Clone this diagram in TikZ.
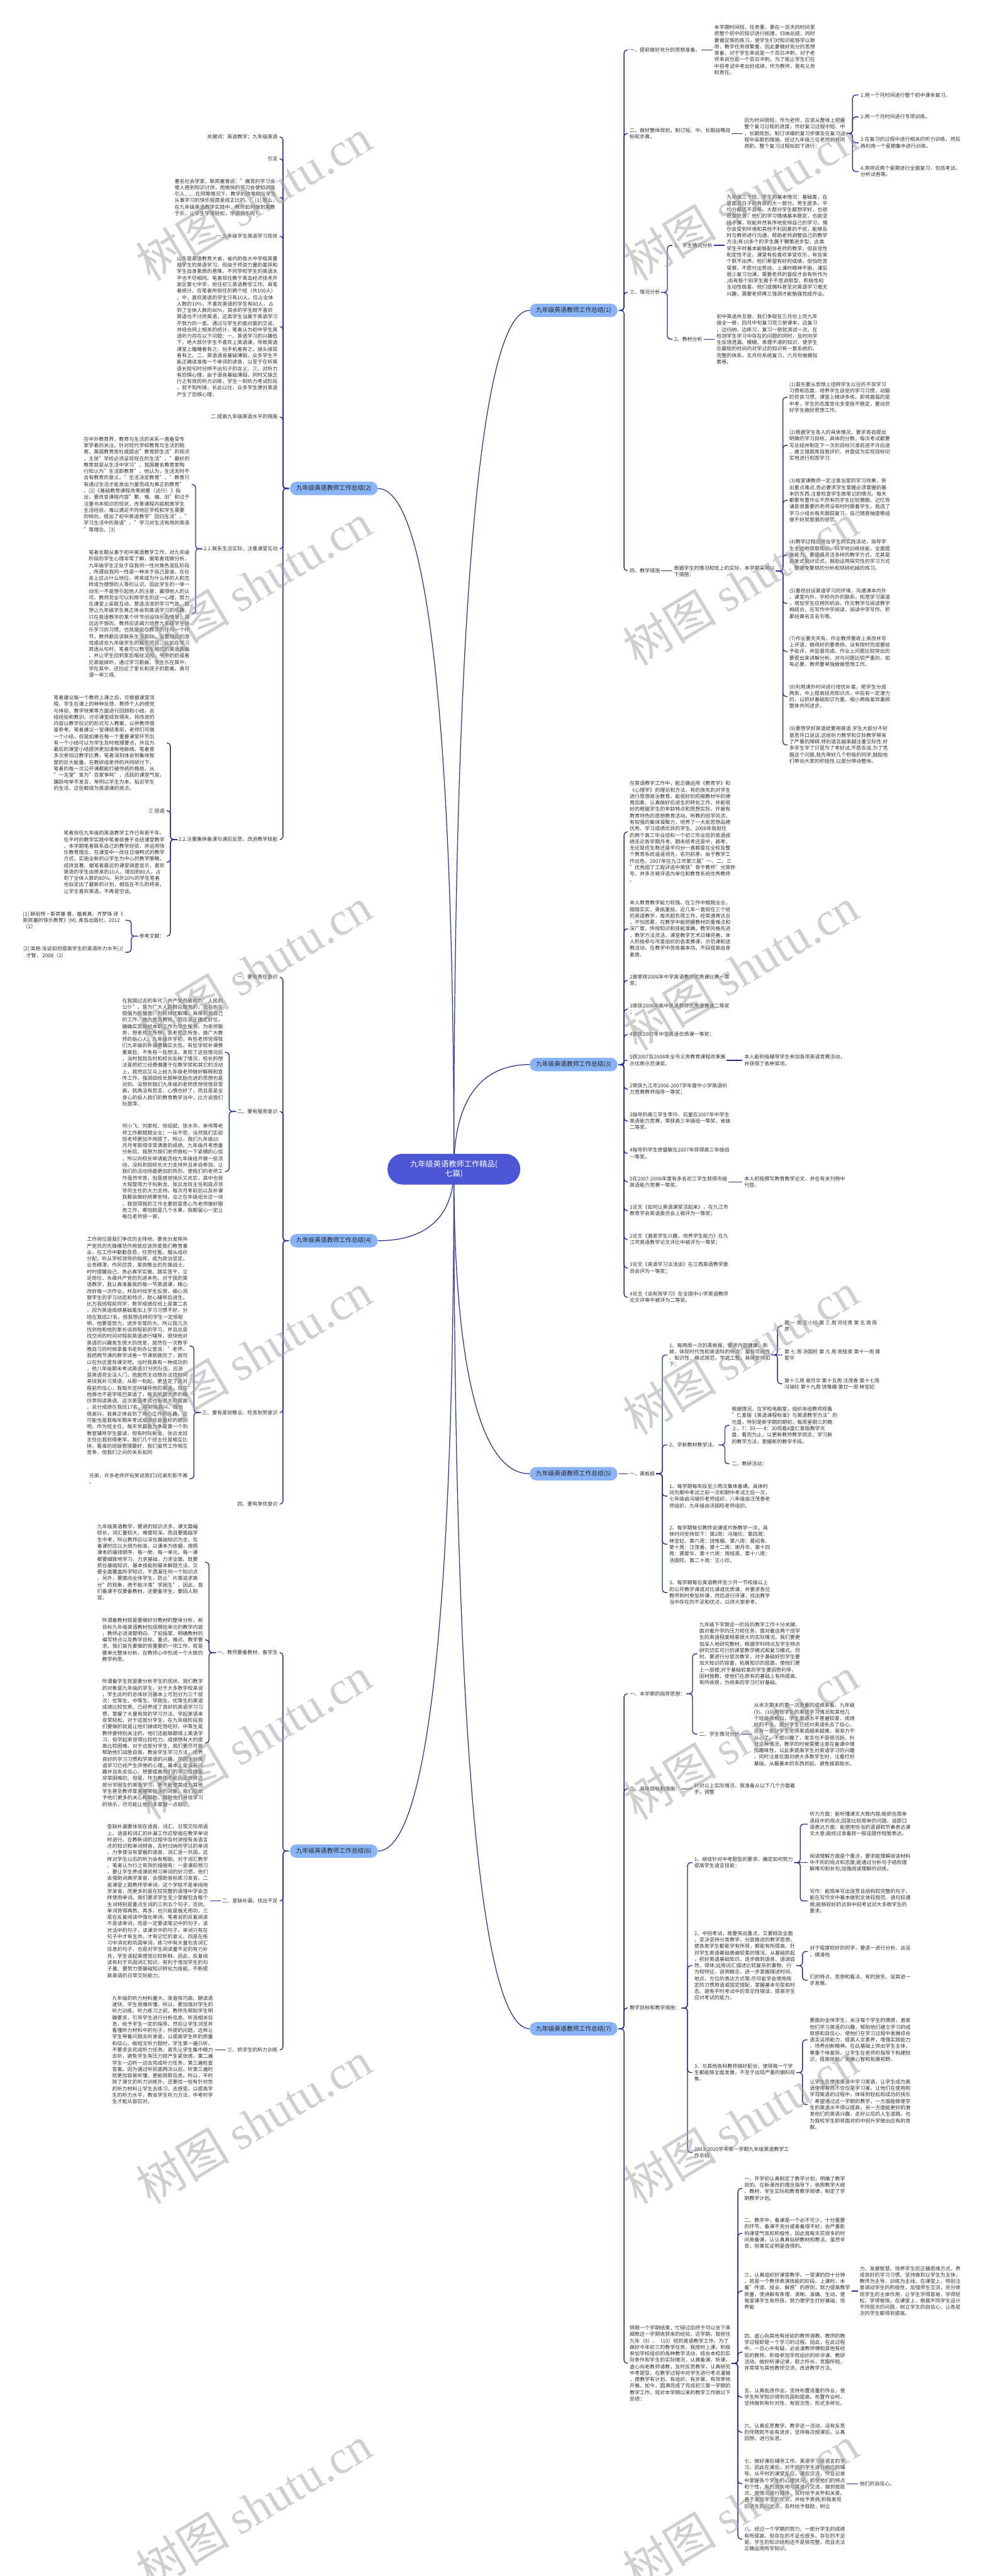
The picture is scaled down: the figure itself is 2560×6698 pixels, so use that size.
\documentclass[tikz,border=0pt]{standalone}
\usepackage{fontspec}
\setmainfont{Noto Sans CJK SC}
\newfontfamily\wmfont{Liberation Serif}
\usetikzlibrary{calc}
\definecolor{lc}{RGB}{38,48,145}
\definecolor{pc}{RGB}{138,180,248}
\definecolor{rc}{RGB}{77,87,214}
\definecolor{tc}{RGB}{48,48,48}
\definecolor{wc}{RGB}{160,160,160}
\newcommand\tf{\fontsize{13.1pt}{16.8pt}\selectfont}
\newcommand\pf{\fontsize{16pt}{19pt}\selectfont}
\newcommand\rf{\fontsize{20pt}{26pt}\selectfont}
\newcommand\wf{\fontsize{122pt}{124pt}\selectfont}
\tikzset{
  cn/.style={draw=lc, line width=2.2pt, rounded corners=8pt},
  cb/.style={draw=lc, line width=2pt},
  rt/.style={anchor=west, inner sep=0pt, align=left, font=\tf, text=tc},
  lt/.style={anchor=east, inner sep=0pt, align=left, font=\tf, text=tc},
  pill/.style={fill=pc, rounded corners=17pt, minimum width=228pt, minimum height=35pt, inner sep=0pt, font=\pf, text=black!85},
  rootn/.style={fill=rc, rounded corners=39pt, minimum width=345pt, minimum height=80pt, inner sep=0pt, align=center, font=\rf, text=white},
  wm/.style={rotate=31, text=wc, text opacity=0.5, font=\wf, inner sep=0pt}
}
\newcommand\RC[3][18]{\draw[cn] ([xshift=3pt]#2.east) -- ++(#1pt,0) |- ([xshift=-5pt]#3.west);}
\newcommand\RS[2]{\draw[cn] ([xshift=3pt]#1.east) -- ($(#1.east -| #2.west)+(-5pt,0)$);}
\newcommand\LC[3][18]{\draw[cn] ([xshift=-3pt]#2.west) -- ++(-#1pt,0) |- ([xshift=5pt]#3.east);}
\newcommand\LS[2]{\draw[cn] ([xshift=-3pt]#1.west) -- ($(#1.west -| #2.east)+(5pt,0)$);}
\begin{document}
\begin{tikzpicture}[x=1pt,y=-1pt]
\fill[white] (0,0) rectangle (2560,6698);
\useasboundingbox (0,0) rectangle (2560,6698);

% ---------------- root and branches ----------------
\coordinate (rootc) at (1180,3040);
\coordinate (q1) at (1377,807);
\coordinate (q2) at (982,1270);
\coordinate (q3) at (1377,2768);
\coordinate (q4) at (982,3226);
\coordinate (q5) at (1377,3832);
\coordinate (q6) at (982,4813);
\coordinate (q7) at (1377,5275);
\draw[cb] (rootc) .. controls (1180,1700) and (1239,807) .. (q1);
\draw[cb] (rootc) .. controls (1180,1977) and (1121,1270) .. (q2);
\draw[cb] (rootc) .. controls (1180,2876) and (1239,2768) .. (q3);
\draw[cb] (rootc) .. controls (1180,3152) and (1121,3226) .. (q4);
\draw[cb] (rootc) .. controls (1180,3515) and (1239,3832) .. (q5);
\draw[cb] (rootc) .. controls (1180,4103) and (1121,4813) .. (q6);
\draw[cb] (rootc) .. controls (1180,4380) and (1239,5275) .. (q7);
\node[rootn] (root) at (rootc) {九年级英语教师工作精品(\\七篇)};
\node[pill,anchor=west] (p1) at (q1) {九年级英语教师工作总结(1)};
\node[pill,anchor=east] (p2) at (q2) {九年级英语教师工作总结(2)};
\node[pill,anchor=west] (p3) at (q3) {九年级英语教师工作总结(3)};
\node[pill,anchor=east] (p4) at (q4) {九年级英语教师工作总结(4)};
\node[pill,anchor=west] (p5) at (q5) {九年级英语教师工作总结(5)};
\node[pill,anchor=east] (p6) at (q6) {九年级英语教师工作总结(6)};
\node[pill,anchor=west] (p7) at (q7) {九年级英语教师工作总结(7)};

% ================= Branch 1 =================
\node[rt] (a1) at (1637,130) {一、提前做好充分的思想准备。};
\node[rt] (a1t) at (1857,130) {本学期时间短，任务重，要在一百天的时间里\\
把整个初中的知识进行梳理，归纳总结，同时\\
要做足够的练习，使学生们对知识能够学以致\\
用，教学任务很繁重，因此要做好充分的思想\\
准备，对于学生来说是一个百日冲刺，对于老\\
师来说也是一个百日冲刺。为了能让学生们在\\
中招考试中考出好成绩，作为教师，我有义务\\
和责任。};
\node[rt] (a2) at (1637,347) {二、做好整体规划，制订短、中、长期战略目\\
标和步骤。};
\node[rt] (a2t) at (1935,347) {因为时间很短，作为老师，应该从整体上把握\\
整个复习过程的进度，作好复习过程中短、中\\
、长期规划，制订详细的复习步骤及在复习过\\
程中采取的措施。经过九年级三位老师的共同\\
商酌，整个复习过程拟如下进行：};
\node[rt] (a2a) at (2237,247) {1.用一个月时间进行整个初中课本复习。};
\node[rt] (a2b) at (2237,304) {2.用一个月时间进行专项训练。};
\node[rt] (a2c) at (2237,371) {3.在复习的过程中进行相关的听力训练，然后\\
再利用一个星期集中进行训练。};
\node[rt] (a2d) at (2237,446) {4.用将近两个星期进行全面复习，包括考试，\\
分析试卷等。};
\node[rt] (a3) at (1637,760) {三、情况分析};
\node[rt] (a3a) at (1753,638) {1、学生情况分析};
\node[rt] (a3at) at (1889,638) {九年级三个班，学生的基本情况：基础差，在\\
里面混日子的有很的大一部分。男生居多。平\\
均分都还不及格。大部分学生都想学好，也很\\
愿意吃苦，他们的学习情绪基本稳定，也能坚\\
持不懈，较能井然有序地安排自己的学习，偶\\
尔会受到环境和其他不利因素的干扰，能够及\\
时与教师进行沟通，帮助老师调整自己的教学\\
方法;有10多个的学生属于鞭策进步型，此类\\
学生平时基本能够配合老师的教学，但自觉性\\
和定性不足，课堂有些喜欢享受欢乐，有些来\\
个默不出声。他们希望有好的成绩，但怕吃苦\\
受罪，不愿付出劳动，上课时精神不振，课后\\
很少复习功课，需要老师的督促才会有所作为\\
;尚有极个别学生属于不思进取型，积极性和\\
主动性极差，他们或偏科甚至对英语学习毫无\\
兴趣，需要老师再三强调才能勉强完成作业。};
\node[rt] (a3b) at (1753,882) {2、教材分析};
\node[rt] (a3bt) at (1863,882) {初中英语共五册，我们争取在三月份上完九年\\
级全一册，四月中旬复习完三册课本，边复习\\
、边归纳、边练习，复习一册就测试一次。在\\
检测学生学习中存在的问题的同时，及时向学\\
生反馈遗漏、模糊、条理不清的知识，使学生\\
在最短的时间内对学过的知识有一套系统的、\\
完整的体系。五月份系统复习，六月份做模拟\\
套卷。};
\node[rt] (a4) at (1637,1484) {四、教学措施};
\node[rt] (a4t) at (1752,1485) {根据学生的情况和班上的实际，本学期采用以\\
下措施：};
\node[rt] (a4a) at (2052,1033) {(1)首先要从思想上扭转学生以往的不良学习\\
习惯和态度，培养学生自觉的学习习惯，动脑\\
的优良习惯，课堂上精讲多练。即将面临的是\\
中考，学生的态度变化多变极不稳定，要动员\\
好学生做好思想工作。};
\node[rt] (a4b) at (2052,1158) {(2)根据学生各人的具体情况，要求各自提出\\
明确的学习目标，具体的分数，每次考试都要\\
写总结并制定下一次的目标只准前进不许后退\\
，建立错题库自我评价。并督促为实现目标切\\
实地进行刻苦学习.};
\node[rt] (a4c) at (2052,1301) {(3)每堂课教师一定注意当堂的学习效果，突\\
出重点难点.务必要求学生掌握必须掌握的基\\
本的东西.注意检查学生做笔记的情况。每天\\
都要布置作业不然有的学生比较懒散。记忆背\\
诵是很重要的老师没有时时跟着学生，我选了\\
学习小组长每天跟踪复习，自己随意抽查哪组\\
做不好就狠狠的惩罚。};
\node[rt] (a4d) at (2052,1443) {(4)教学过程应突出学生的实践活动，指导学\\
生主动地获取知识，科学地训练技能，全面提\\
高能力。要提倡灵活多样的教学方式，尤其是\\
启发式和讨论式，鼓励运用探究性的学习方式\\
。要避免繁琐的分析和琐碎机械的练习。};
\node[rt] (a4e) at (2052,1569) {(5)重视创设英语学习的环境，沟通课本内外\\
、课堂内外、学校内外的联系，拓宽学习渠道\\
，增加学生应用的机会。作文教学与阅读教学\\
相结合，在写作中学阅读，阅读中学写作。积\\
累经典名言名句等。};
\node[rt] (a4f) at (2052,1694) {(7)作业要天天有，作业教师要收上来改并写\\
上评语，做得好的要表扬，没有按时完成要给\\
予批评，并监督完成。作业上问题比较突出的\\
要提出来讲解分析。对与问题比较严重的，如\\
有必要，教师要单独做做思想工作。};
\node[rt] (a4g) at (2052,1811) {(8)利用课外时间进行培优补差。把学生分成\\
两类，中上提高括充知识点，中后有一定潜力\\
的，以抓好基础知识为重。缩小两极差异兼顾\\
整体共同进步。};
\node[rt] (a4h) at (2052,1937) {(9)要想学好英语就要用英语.学生大部分不好\\
意思开口说话.这给听力教学和交际教学带来\\
了严重的障碍.特别语言越来越注重交际性.好\\
多学生学了只是为了考好试,不愿去说.为了克\\
服这个问题,我先带好几个积极的同学,鼓励他\\
们带动大家的积极性.以部分带动整体。};
\foreach \c in {a1,a2,a3,a4} {\RC[14]{p1}{\c}}
\RS{a1}{a1t}
\RS{a2}{a2t}
\foreach \c in {a2a,a2b,a2c,a2d} {\RC[16]{a2t}{\c}}
\RC[16]{a3}{a3a}
\RC[16]{a3}{a3b}
\RS{a3a}{a3at}
\RS{a3b}{a3bt}
\RS{a4}{a4t}
\foreach \c in {a4a,a4b,a4c,a4d,a4e,a4f,a4g,a4h} {\RC[18]{a4t}{\c}}

% ================= Branch 3 =================
\node[rt] (c1) at (1637,2163) {在英语教学工作中，能正确运用《教育学》和\\
《心理学》的理论和方法。有的放矢的对学生\\
进行思想政治教育。能很好的挖掘教材中的德\\
育因素，认真做好后进生的转化工作，并能很\\
好的根据学生的年龄特点和思想实际，开展有\\
教育特色的思想教育活动。所教的班学风浓，\\
有较强的集体凝聚力，培养了一大批思想品德\\
优秀、学习成绩优异的学生。2008年我担任\\
的两个高三毕业班和一个初三毕业班的英语成\\
绩无论各学期月考、期末统考还是中，高考，\\
无论是优生数还是平均分一直都是在全校及整\\
个教育系统遥遥领先，名列前茅。由于教学工\\
作出色，2007年在九江市第三届"一、二、三\\
"优秀园丁工程评选中荣获"骨干教师"光荣称\\
号。并多次被评选为单位和教育系统优秀教师\\
。};
\node[rt] (c2) at (1637,2415) {本人教育教学能力较强。在工作中兢兢业业，\\
踏踏实实，勇挑重担。近几年一直担任三个班\\
的英语教学，每天超负荷工作，经常通宵达旦\\
，不怕苦累。在教学中能把握教材的重难点和\\
深广度，传授知识和技能准确，教学风格先进\\
，教学方法灵活，课堂教学艺术日臻完善。本\\
人积极参与市里组织的各类赛课，示范课和送\\
教活动，在教学中苦练基本功。不段提高自身\\
素质。};
\node[rt] (c3) at (1637,2549) {2曾荣获2006年中学英语教师优质课比赛一等\\
奖；};
\node[rt] (c4) at (1637,2624) {3荣获2006年高中英语教师优质课赛课二等奖\\
；};
\node[rt] (c5) at (1637,2690) {4荣获2007年中学英语优质课一等奖；};
\node[rt] (c6) at (1637,2757) {5获2007及2008年全市义务教育课程改革展\\
示优质示范课奖。};
\node[rt] (c6t) at (1935,2757) {本人能积极辅导学生参加各项英语竞赛活动，\\
并获得了各种奖项。};
\node[rt] (c7) at (1637,2832) {2荣获九江市2006-2007学年度中小学英语听\\
力竞赛教师指导一等奖；};
\node[rt] (c8) at (1637,2915) {3指导的高三学生李玲、石童在2007年中学生\\
英语能力竞赛，荣获高三年级组一等奖，省级\\
二等奖，};
\node[rt] (c9) at (1637,2999) {4指导的学生廖盛敏在2007年获得高三年级组\\
一等奖。};
\node[rt] (c10) at (1637,3073) {5在2007-2008年度有多名初三学生获得市级\\
英语能力竞赛一等奖。};
\node[rt] (c10t) at (1935,3073) {本人积极撰写教育教学论文，并在有关刊物中\\
刊登。};
\node[rt] (c11) at (1637,3148) {1论文《如何让英语课堂活起来》，在九江市\\
教育学会英语委员会上被评为一等奖；};
\node[rt] (c12) at (1637,3223) {2论文《激发学生兴趣，培养学生能力》在九\\
江市英语教学论文评比中被评为一等奖；};
\node[rt] (c13) at (1637,3297) {3论文《英语学习法浅谈》在江西英语教学委\\
员会评为一等奖；};
\node[rt] (c14) at (1637,3373) {4论文《谈有效学习》在全国中小学英语教师\\
论文评审中被评为二等奖。};
\foreach \c in {c1,c2,c3,c4,c5,c7,c8,c9,c10,c11,c12,c13,c14} {\RC[14]{p3}{\c}}
\draw[cn,rounded corners=4pt] ([xshift=3pt]p3.east) -- ++(14pt,0) |- ([xshift=-5pt]c6.west);
\RS{c6}{c6t}
\RS{c10}{c10t}

% ================= Branch 5 =================
\node[rt] (e1) at (1637,3832) {一、黑板报};
\node[rt] (k1) at (1740,3523) {1、每两周一次的黑板报，要求内容健康、新\\
颖，体现时代性和英语科的特点，富有可阅性\\
、知识性，格式规范，字迹工整。具体安排如\\
下：};
\node[rt] (k1a) at (2039,3448) {第 一 周 王小珍 第 三 周 邓任贵 第 五 周 陈\\
彦};
\node[rt] (k1b) at (2039,3523) {第 七 周 汤国旺 第 九 周 周桂英 第十一周 龚\\
爱华};
\node[rt] (k1c) at (2039,3598) {第十三周 谢月华 第十五周 汪茂香 第十七周\\
冯瑞珍 第十九周 饶惟媚 第廿一周 林宝妃};
\node[rt] (k2) at (1740,3757) {2、学新教材教学法。};
\node[rt] (k2a) at (1902,3706) {根据情况，在学校电脑室，组织本组教师观看\\
"仁爱版《英语课程标准》与英语教学方法"的\\
光盘，特别是新学期的期初，每周星期三的晚\\
上，7：30——8：30观看8盘仁爱版教学光\\
盘，看完为止，以更新教师教学观念，学习新\\
的教学方法，掌握新的教学手段。};
\node[rt] (k2b) at (1902,3806) {二、教研活动：};
\node[rt] (k3) at (1740,3890) {1、每学期每年段至少两次集体备课，具体时\\
间为期中考试之前一次和期中考试之后一次，\\
七年级由冯瑞珍老师组织，八年级由汪茂香老\\
师组织，九年级由汤国旺老师组织。};
\node[rt] (k4) at (1740,4015) {2、每学期每位教师说课或片断教学一次，具\\
体时间安排如下：第2周：冯瑞珍、第四周：\\
林宝妃、第六周：饶惟媚、第八周：葛绍青、\\
第十周：汪茂香、第十二周：谢月华、第十四\\
周：龚爱华、第十六周：周桂英、第十八周：\\
汤国旺、第二十周：王小珍。};
\node[rt] (k5) at (1740,4141) {3、每学期每位英语教师至少开一节校级以上\\
的公开教学课或对比课或优质课，并要求各位\\
教师到时参加听课，然后进行评课，找出教学\\
当中存在的不足和优点，以供大家参考。};
\RS{p5}{e1}
\foreach \c in {k1,k2,k3,k4,k5} {\RC[16]{e1}{\c}}
\RC[16]{k1}{k1a}
\RS{k1}{k1b}
\RC[16]{k1}{k1c}
\RC[16]{k2}{k2a}
\RC[16]{k2}{k2b}

% ================= Branch 7 =================
\node[rt] (f1) at (1637,4404) {一、本学期的指导思想：};
\node[rt] (f1a) at (1818,4300) {九年级下学期这一阶段的教学工作十分关键。\\
面对着升学的压力和任务，面对着这两个班学\\
生的英语程度相差很大的实际情况。我们要更\\
加深入地研究教材，根据学科特点及学生特点\\
研究切实可行的课堂教学模式和复习模式。同\\
时，要进行分层次教学。对于基础好的学生要\\
加大知识的容量，拓展知识的层面，使他们更\\
上一层楼;对于基础较差的学生要因势利导，\\
因材施教，使他们在原有的基础上有所提高、\\
有所收获，为将来的学习打好基础。};
\node[rt] (f1b) at (1818,4509) {二、学生情况分析};
\node[rt] (f1bt) at (1960,4510) {从本次期末的第一次质量的成绩来看，九年级\\
(9)、(10)两班学生的英语学习情况和其他几\\
个班级很相似，学生英语水平普遍较差，成绩\\
好的不多，部分学生已经对英语失去了信心，\\
还有一部分学生觉得英语越来越难，渐渐力不\\
从心了，不感兴趣了，发言也不是很活跃。针\\
对这种情况，教学的时候需要注意在备课中增\\
加趣味性，以此来提高学生对英语学习的兴趣\\
，同时注意在面对绝大多数学生时，注重打好\\
基础，从最基本的东西抓起，避免拔苗助长。};
\node[rt] (f2) at (1637,4651) {三、具体目标和措施：};
\node[rt] (f2t) at (1805,4652) {针对以上实际情况，我准备从以下几个方面着\\
手，调整};
\node[rt] (f3) at (1637,5221) {教学目标和教学措施：};
\node[rt] (g1) at (1805,4843) {1、继续针对中考题型的要求，确定如何努力\\
提高学生语言技能：};
\node[rt] (g1a) at (2105,4743) {听力方面：能听懂课文大致内容;能抓住简单\\
语段中的观点;回答比较简单的问题。说即口\\
语表达方面：能使用恰当的语调和节奏表达课\\
文大意;能经过准备就一般话题作短暂表达。};
\node[rt] (g1b) at (2105,4843) {阅读理解方面是个重点，要求能理解阅读材料\\
中不同的观点和态度;能通过分析句子结构理\\
解难句和长句;加强阅读理解的训练。};
\node[rt] (g1c) at (2105,4943) {写作：能简单写出连贯且结构较完整的句子，\\
能在写作文中基本做到文体较规范、语句较通\\
顺;能够较好的达到中招考试对大多数学生的\\
要求。};
\node[rt] (g2) at (1805,5111) {2、中招考试，既要突出重点，又要顾及全面\\
，坚决坚持分类教学，分层推进的教学思想，\\
使各类学生都能学有所获，都能有所提高。针\\
对学生英语基础普遍较差的情况，从基础抓起\\
，抓好英语基础知识。逐步做到语音、语调自\\
然、得体;运用词汇描述比较复杂的事物、行\\
为和特征，说明概念，进一步掌握描述时间、\\
地点、方位的表达方式等;尽可能学会使用规\\
定的习惯用语或固定搭配，掌握基本句型和时\\
态。避免平时考试中的常见性错误，提高学生\\
应对考试的能力。};
\node[rt] (g2a) at (2105,5074) {对于程度较好的同学，要逐一进行分析、谈话\\
，摸清他};
\node[rt] (g2b) at (2105,5149) {们的特点、思想和看法，有的放矢，促其进一\\
步发展。};
\node[rt] (g3) at (1805,5389) {3、与其他各科教师搞好配合。使得每一个学\\
生都能够全面发展，不至于出现严重的偏科现\\
象。};
\node[rt] (g3a) at (2105,5304) {要面向全体学生，关注每个学生的情感，激发\\
他们学习英语的兴趣，帮助他们建立学习的成\\
就感和自信心，使他们在学习过程中发展综合\\
语言运用能力，提高人文素养，增强实践能力\\
，培养创新精神。在此基础上突出学生主体，\\
尊重个体差异，让学生在老师的指导下构建知\\
识，提高技能，发展心智和拓展视野。};
\node[rt] (g3b) at (2105,5472) {让学生在使用英语中学习英语，让学生成为英\\
语使用者而不仅仅是学习者。让他们在使用和\\
学习英语的过程中，体味到轻松和成功的快乐\\
。希望通过这一学期的教学，一方面能够使学\\
生的英语水平得以提高，另一方面能更好的激\\
发他们的英语兴趣，走好以后的人生道路。也\\
为我校学生即将面对的中招升学做出应有的贡\\
献。};
\node[rt] (g4) at (1805,5597) {2019-2020学年第一学期九年级英语教学工\\
作总结};
\node[rt] (f4) at (1637,6145) {转眼一个学期结束，忙碌过后终于可以坐下来\\
细数这一学期收获来的经验。这学期，我担任\\
九年（9）、（10）班的英语教学工作。为了\\
做好今年初三的教学任务，我按时上课，积极\\
参加学校组织的各种教学活动，结合本校的实\\
际条件和学生的实际情况，认真备课、听课，\\
虚心向老教师请教，及时反思教学，认真研究\\
中考题型，在教学过程中对学生进行考点灌输\\
，使教学有计划、有组织、有步骤、有效率地\\
开展。如今，圆满完成了完成初三第一学期的\\
教学工作，现对本学期以来的教学工作做以下\\
总结：};
\node[rt] (h1) at (1935,5690) {一、开学初认真制定了教学计划，明确了教学\\
目的。在新课改的理念指导下，依照教学大纲\\
、教材、学生实际和教育教学规律，制定了学\\
期教学计划。};
\node[rt] (h2) at (1935,5807) {二、教学中，备课是一个必不可少，十分重要\\
的环节。备课不充分或者备得不好，会严重影\\
响课堂气氛和积极性，因此我每天花很多的时\\
间来备课，认认真真钻研教材和教法。虽然辛\\
苦，但事实证明是值得的。};
\node[rt] (h3) at (1935,5957) {三、认真组织好课堂教学。一堂课的四十分钟\\
，就是一个教师表演技能的阶段。上课时，本\\
着"传道、授业、解惑"的原则，努力提高教学\\
质量，使讲解有条理、清晰、准确、生动。使\\
每堂课学生有所获，努力使学生打好基础，培\\
养能};
\node[rt] (h3t) at (2235,5957) {力，发展智慧，培养学生的正确思维方式，养\\
成良好的学习习惯。坚持做到以学生为主体，\\
教师为主导，训练为主线。在课堂上，特别注\\
意调动学生的积极性，加强师生交流，充分体\\
现学生的主体作用，让学生学得容易，学得轻\\
松，学得愉快。在课堂上，根据不同学生设计\\
不同层次的问题，树立学生的自信心，让各层\\
次的学生都得到提高。};
\node[rt] (h4) at (1935,6116) {四、虚心向其他有经验的教师请教。教师的教\\
学过程即是一个学习的过程。因此，在此过程\\
中，一旦心中有疑，必会请教师傅和其他有经\\
验的教师，积极参加学校组织的听评课、教研\\
活动，做好听课记录，取之所长，克服所短，\\
并常常与其他教师交流，改进教学方法。};
\node[rt] (h5) at (1935,6233) {五、认真批改作业。坚持布置适量的作业，使\\
学生所学知识得到巩固和提高。布置作业时，\\
坚持做到有针对性，有层次性，形式多样化。};
\node[rt] (h6) at (1935,6324) {六、认真反思教学。教学这一活动，没有反思\\
的伴随就不会有进步。坚持每次授课后，认真\\
回想，进行反思。};
\node[rt] (h7) at (1935,6458) {七、做好课后辅导工作。英语学习是语言的学\\
习，因此在课后，对不同的学生进行相应的辅\\
导。从平时的课堂反应，课后交流，作业记录\\
中掌握各个学生的心理状况，抓住他们的特点\\
和个性，有的放矢地与其进行交流，做到按层\\
次、按情况进行辅导。及时给予关怀和关爱。\\
善于发现学生的优点，并给予表扬;积极发现\\
后进生的闪光点，及时给予鼓励，树立};
\node[rt] (h7t) at (2235,6458) {他们的自信心。};
\node[rt] (h8) at (1935,6602) {八、经过一个学期的努力，一部分学生的成绩\\
有所提高，但存在的不足也很多。存在的不足\\
是，学生的知识结构还不是很完整，而且无法\\
正确运用所学知识。};
\foreach \c in {f1,f2,f3,f4} {\RC[14]{p7}{\c}}
\RC[16]{f1}{f1a}
\RC[16]{f1}{f1b}
\RS{f1b}{f1bt}
\RS{f2}{f2t}
\foreach \c in {g1,g2,g3,g4} {\RC[16]{f3}{\c}}
\RC[16]{g1}{g1a}
\RS{g1}{g1b}
\RC[16]{g1}{g1c}
\RC[16]{g2}{g2a}
\RC[16]{g2}{g2b}
\RC[16]{g3}{g3a}
\RC[16]{g3}{g3b}
\foreach \c in {h1,h2,h3,h4,h5,h6,h7,h8} {\RC[16]{f4}{\c}}
\RS{h3}{h3t}
\RS{h7}{h7t}

% ================= Branch 2 (left) =================
\node[lt] (m1) at (722,356) {关键词：英语教学；九年级英语};
\node[lt] (m2) at (722,413) {引言};
\node[lt] (m3) at (722,513) {著名社会学家，斯宾塞曾说："痛苦的学习会\\
使人感到知识讨厌，而愉快的学习会使知识吸\\
引人……在同等情况下，教学的效率和与学生\\
从事学习的快乐程度是成正比的。"[1] 那么，\\
在九年级英语教学实践中，教师如何做到寓教\\
于乐，让学生学得轻松，学得快乐呢？};
\node[lt] (m4) at (722,614) {一.九年级学生英语学习现状};
\node[lt] (m5) at (722,849) {山东是英语教育大省，省内的各大中学极其重\\
视学生的英语学习。但由于师资力量的差异和\\
学生自身素质的悬殊，不同学校学生的英语水\\
平也不尽相同。笔者现任教于青岛经济技术开\\
发区第七中学，担任初三英语教学工作。具笔\\
者统计，在笔者所担任的两个班（共100人）\\
，中，喜欢英语的学生只有10人，仅占全体\\
人数的10\%，不喜欢英语的学生有80人，占\\
到了全体人数的80\%，其余的学生既不喜欢\\
英语也不讨厌英语，这类学生当属于英语学习\\
不努力的一类。通过与学生的面对面的交谈，\\
并结合网上相关的统计，笔者认为初中学生英\\
语听力存在以下问题：一、英语学习的兴趣低\\
下，绝大部分学生不喜欢上英语课，导致英语\\
课堂上瞌睡者有之，玩手机者有之，接头接耳\\
者有之。二、英语语音基础薄弱，众多学生不\\
能正确读准每一个单词的读音，以至于在听英\\
语长短句时分辨不出句子的含义。三、对听力\\
有恐惧心理，由于语音基础薄弱，同时又缺乏\\
行之有效的听力训练，学生一到听力考试阶段\\
，就不知所措，长此以往，众多学生便对英语\\
产生了恐惧心理。};
\node[lt] (m6) at (722,1084) {二.提高九年级英语水平的措施};
\node[lt] (m7) at (722,1427) {2.1.联系生活实际，注重课堂互动};
\node[lt] (m7a) at (493,1260) {在中外教育界，教育与生活的关系一直备受专\\
家学者的关注。针对现代学校教育与生活的脱\\
离，美国教育家杜威提出"教育即生活"的观点\\
，主张"学校必须呈现现在的生活"、"最好的\\
教育就是从生活中学习"。我国著名教育家陶\\
行知认为"生活即教育"。他认为，生活无时不\\
含有教育的意义，"生活决定教育"，"教育只\\
有通过生活才能发出力量而成为真正的教育"\\
。[2]《基础教育课程改革纲要（试行）》指\\
出，要改变课程内容"繁、难、偏、旧"和过于\\
注重书本知识的现状，改革课程内容脱离学生\\
生活经验、难以满足不同地区学校和学生需要\\
的倾向，提出了初中英语教学"回归生活"、"\\
学习生活中的英语"、"学习对生活有用的英语\\
"等理念。[3]};
\node[lt] (m7b) at (493,1596) {笔者长期从事于初中英语教学工作，对九年级\\
阶段的学生心理非常了解，据笔者观察分析，\\
九年级学生正处于自我同一性对角色混乱阶段\\
，所谓自我同一性是一种关于自己是谁，在社\\
会上应占什么地位，将来成为什么样的人和怎\\
样成为理想的人等的认识。因此学生的一举一\\
动无一不是想引起他人的注意，赢得他人的认\\
可。教师完全可以利用学生的这一心理，努力\\
在课堂上采取互动，营造活泼的学习气氛。若\\
想让九年级学生真正体会到英语学习的乐趣，\\
只在英语教学的某个环节创设快乐的情景，是\\
远远不够的。教师应该竭力培养九年级学生快\\
乐学习的习惯。也就是说在教学的任何一个环\\
节，教师都应该联系生活实际，设置相应的游\\
戏或适合九年级学生的娱乐节目。比如在学习\\
宾语从句时，笔者可以教学生相应的英语歌曲\\
，并让学生回到家后唱给父母，爷爷奶奶或者\\
兄弟姐妹听，通过学习歌曲，学生乐在其中，\\
学在其中，还拉近了家长和孩子的距离。真可\\
谓一举三得。};
\node[lt] (m8) at (722,2183) {2.2.注重集体备课与课后反思，改进教学技能};
\node[lt] (m8a) at (428,1932) {笔者建议每一个教师上课之后，可根据课堂流\\
程、学生在课上的种种反馈、教师个人的感觉\\
与体验、教学效果等方面进行回顾和小结，总\\
结经验和教训，讨论课堂成败得失，将改进的\\
内容以教学后记的形式写入教案，以供教师借\\
鉴参考。笔者建议一堂课结束前，老师们可做\\
一个小结，但是如果在每一个重要课堂环节后\\
有一个小结可以为学生及时梳理要点，并且为\\
最后的课堂小结提供更加清晰地脉络。笔者曾\\
多次参加过教学比赛，笔者深刻体会到集体智\\
慧的巨大能量。在教研组老师的共同研讨下，\\
笔者的每一次公开课都能打破传统的格局，从\\
"一言堂"变为"百家争鸣"，活跃的课堂气氛，\\
踊跃地举手发言，举例以学生为本，贴近学生\\
的生活，这些都成为英语课的亮点。};
\node[lt] (m8b) at (428,2108) {三 结语};
\node[lt] (m8c) at (428,2242) {笔者担任九年级的英语教学工作已有若干年。\\
在平时的教学实践中笔者就善于总结课堂教学\\
。本学期笔者联系自己的教学经验，并运用快\\
乐教育理念，在课堂中一改往日填鸭式的教学\\
方式，实施全新的以学生为中心的教学策略，\\
成效显著。据笔者最近的课堂调查显示，喜欢\\
英语的学生由原来的10人，增加到80人，占\\
到了全体人数的80\%。另外20\%的学生笔者\\
也拟定出了最新的计划，相信在不久的将来，\\
让学生喜欢英语，不再是空谈。};
\node[lt] (m8d) at (428,2434) {参考文献：};
\node[lt] (m8d1) at (321,2393) {[1] 赫伯特·斯宾塞 著，雒真真，齐梦珠 译《\\
斯宾塞的快乐教育》[M]. 青岛出版社，2012\\
（2）};
\node[lt] (m8d2) at (321,2476) {[2] 吴杨 浅谈如何提高学生的英语听力水平[J]\\
. 才智， 2008（2）};
\foreach \c in {m1,m2,m3,m4,m5,m6,m7,m8} {\LC[15]{p2}{\c}}
\LC[18]{m7}{m7a}
\LC[18]{m7}{m7b}
\foreach \c in {m8a,m8b,m8c,m8d} {\LC[18]{m8}{\c}}
\LC[18]{m8d}{m8d1}
\LC[18]{m8d}{m8d2}

% ================= Branch 4 (left) =================
\node[lt] (n1) at (722,2541) {一、要有责任意识};
\node[lt] (n2) at (722,2890) {二、要有服务意识};
\node[lt] (n2a) at (580,2736) {在我国过去的年代，共产党员被称为"人民的\\
公仆"，是为广大人民群众服务的，现在也在\\
提倡为民服务，为民排忧解难。具体到我自己\\
的工作，做为党员教师，就应该正确定好位，\\
确确实实做好本职工作为学生服务、为老师服\\
务，想老师之所想，急老师之所急，做广大教\\
师的贴心人。九年级开学初，有些老师觉得我\\
们九年级的补课费确实太低，有些学校补课费\\
要高些，不免有一些想法，发现了这些情况后\\
，当时我就及时和校长反映了情况，校长的想\\
法是把初三经费偏重于在教学奖和其它的活动\\
上，我然后又马上给九年级老师做好解释和宣\\
传工作，强调田校长那种奖励先进的思想也是\\
对的。没想到我们九年级的老师思想觉悟非常\\
高，就再没有怨言，心情也好了，而且是是全\\
身心的投入我们的教育教学当中，比方说我们\\
阮翠萍、};
\node[lt] (n2b) at (580,3046) {何小飞、刘家权、徐绍斌、张水华、单伟等老\\
师工作都兢兢业业；一丝不苟，当然我们实验\\
班老师更加不用提了。所以，我们九年级10\\
月月考取得非常满意的成绩。九年级月考质量\\
分析后，我想为我们老师放松一下紧绷的心弦\\
，所以向校长申请能否给九年级组开展一些活\\
动，没料到田校长大力支持并且亲自参加，让\\
我们的活动场面更加的热烈，使我们的老师工\\
作虽然辛苦，但是感觉快乐又充实，其中也很\\
大程度得力于阮新龙、张云龙班主任和挂点领\\
导何主任的大力支持。每次月考前后以及补课\\
我都会做好统筹安排，总之在年级组长这一块\\
，我觉得我的工作主要就是悉心为老师做好服\\
务工作，哪怕就是几个水果，我都留心一定让\\
每位老师尝一尝。};
\node[lt] (n3) at (722,3673) {三、要有爱岗敬业、吃苦耐劳意识};
\node[lt] (n3a) at (488,3500) {工作岗位是我们争优的主阵地，要充分发挥共\\
产党员的先锋模范作用就应该热爱我们教育事\\
业，在工作中勤勤恳恳，任劳任冤，服从组织\\
分配，听从学校领导的指挥，成为政治坚定，\\
业务精湛，作风优良，爱岗敬业的先锋战士。\\
时时提醒自己，务必真学实做、踏实苦干，立\\
足岗位，永葆共产党的先进本色。对于我的英\\
语教学，我认真准备我的每一节英语课，精心\\
改好每一次作业，并及时找学生反馈，细心洞\\
察学生的学习动态和特点，耐心辅导后进生。\\
比方我班程前同学，数学成绩在班上是第二名\\
，因为英语成绩基础差加上学习习惯不好，分\\
班在我班27名，但我想这样的学生一定很聪\\
明，他要是努力，进步非常的大。所以我几次\\
找到他和他的家长谈到程前的学习，并且总是\\
找空闲的时间对程前英语进行辅导，很快他对\\
英语的兴趣发生很大的改变，居然在一次数学\\
晚自习的时候拿着书走到办公室说："老师，\\
我把两节课的数学试卷一节课就做完了，我可\\
以在你这里背课文吧。当时我真有一种成功的\\
，他八年级期末考试英语37分的队伍，应该\\
是英语完全没入门，他居然主动想办法找时间\\
来找我补习英语，从那一刻起，更坚定了我对\\
程前的信心，我每天坚持辅导他的英语，现在\\
他再也不是学哑巴英语了，每天早晨大声的模\\
仿李阳读英语。这次英语考试也有很大的提高\\
，总分成绩在我班17名。程前很高兴，我也\\
很高兴，我真正体会到了用心工作的乐趣。这\\
可能也是我每年期末考试成绩总是最好的原因\\
吧。作为班主任，每天早晨我力争是第一个到\\
教室辅导学生晨读，但有时阮新龙、张云龙班\\
主任比我到得更早，我们几个班主任是相互比\\
拼，看谁的班级管理最好，我们虽然工作相互\\
竞争，但我们之间的关系如同};
\node[lt] (n3b) at (488,3845) {兄弟，许多老师开玩笑说我们3兄弟形影不离\\
。};
\node[lt] (n4) at (722,3911) {四、要有争优意识};
\foreach \c in {n1,n2,n3,n4} {\LC[15]{p4}{\c}}
\LC[18]{n2}{n2a}
\LC[18]{n2}{n2b}
\LC[18]{n3}{n3a}
\LC[18]{n3}{n3b}

% ================= Branch 6 (left) =================
\node[lt] (o1) at (722,4297) {一、教师要备教材、备学生};
\node[lt] (o1a) at (528,4062) {九年级英语教学，要讲的知识点多，课文篇幅\\
较长，词汇量较大，难度较深，而且要面临学\\
生中考，所以教师应以深化基础知识为主。在\\
备课时应以大纲为标准，以课本为依据，按照\\
课本的编排顺序，每一册、每一单元、每一课\\
都要细致地学习，力求基础，力求全面。既要\\
抓住基础知识、基本技能和基本解题方法，又\\
要全面覆盖所学知识，不遗漏任何一个知识点\\
。另外，要面向全体学生，防止"片面追求高\\
分"的现象，绝不能冷落"学困生"。因此，我\\
们备课不仅要备教材，还要备学生，要因人制\\
宜。};
\node[lt] (o1b) at (528,4264) {所谓备教材就是要做好对教材的整体分析。新\\
目标九年级英语教材包括哪些单元的教学内容\\
，教师必须清楚明白、了如指掌，明确教材的\\
编写特点以及教学目标、重点、难点、教学要\\
求。我们首先要做的很重要的一项工作，就是\\
要单元整体分析，在教师心中形成一个大致的\\
教学构思。};
\node[lt] (o1c) at (528,4532) {所谓备学生就是要分析学生的现状。我们教学\\
的对象是九年级的学生，对于大多数学校来说\\
，学生此时的总体状况基本上可划分为三个层\\
次：优等生、中等生、学困生。优等生的英语\\
成绩比较优秀、已经养成了良好的英语学习习\\
惯，掌握了大量有效的学习方法，学起英语来\\
非常轻松。对于这部分学生，在九年级阶段我\\
们要做的就是让他们继续吃饱吃好。中等生是\\
教师要特别关注的，他们还能够跟得上英语学\\
习，但学起来觉得比较吃力，成绩想有大的提\\
高比较困难。对于这部分学生，我们要尽可能\\
帮助他们战胜自我，教会学生学习方法，培养\\
良好的学习习惯和学英语的兴趣。学困生对英\\
语学习已经产生厌倦的心理，基本上是没有兴\\
趣并且失去信心，想要提高他们的学习成绩是\\
非常困难的。但是，作为教师不能因此放弃这\\
部分学困生的英语学习，更不能使其成为其他\\
学生甚至教师拿来嘲笑批评的对象。我们应给\\
予他们更多的关心和帮助，帮助他们寻找学习\\
的快乐，尽可能让他们多掌握一点知识。};
\node[lt] (o2) at (722,4943) {二、查缺补漏，找出不足};
\node[lt] (o2t) at (541,4943) {查缺补漏要体现在语音、词汇、日常交际用语\\
上。语音和词汇的补漏工作应穿插在教学单词\\
时进行。在教新词的过程中及时讲授有关语言\\
点的知识和单词辨音，及时归纳所学过的单词\\
。力争使没有掌握的语音、词汇逐一巩固，这\\
样对学生以后的听力会有帮助。对于词汇教学\\
，笔者认为行之有效的措施有：一是课前预习\\
，要让学生养成课前预习单词的好习惯，他们\\
会借助词典学发音，会借助音标练习发音。二\\
是课堂上跟教师学单词，这个学就不是单纯地\\
学发音，而更多的是在较完整的语境中学会怎\\
样使用单词。我们要求学生至少掌握包含每个\\
生词特别是重点生词的三到五个句子，否则，\\
单词背得再熟、再多，也只能是做无用功。三\\
是在反复阅读中强化单词，笔者说的反复阅读\\
不是读单词，而是一定要读笔记中的句子，读\\
对话中的句子，读课文中的句子，单词只有在\\
句子中才有生命，才有记忆的意义。四是在练\\
习中消化和巩固单词，练习中有大量包含词汇\\
信息的句子，也是对学生阅读量不足的有力补\\
充，学生读起来感觉比较新鲜。因此，反复阅\\
读有利于巩固词汇知识，有利于增加学生的句\\
子量。要努力使基础知识转化为技能，不断提\\
高英语的日常交际能力。};
\node[lt] (o3) at (722,5330) {三、抓学生的听力训练};
\node[lt] (o3t) at (554,5330) {九年级的听力材料量大、发音技巧高、朗读语\\
速快、学生很难听懂，所以，要加强对学生的\\
听力训练。听力练习之前，教师先帮助学生明\\
确要求，引导学生进行分析信息、听选相关信\\
息，给予学生一定的指导。然后让学生浏览并\\
看懂听力材料中的句子、所提的问题，这样让\\
学生带着问题去听录音，以提高学生听的质量\\
和信心。做短文听力题时，学生第一遍只听，\\
不要求去完成听力任务。首先让学生集中精力\\
去听，避免学生有压力就产生紧张感，第二遍\\
学生一边听一边去完成听力任务，第三遍检查\\
答案。因为通过听前面两次以后，听第三遍时\\
就更加容易听懂，更能获取信息。所以，平时\\
除了课文的听力训练外，还要找一些有针对性\\
的听力材料让学生去练习、去感受，以提高学\\
生的听力水平，教会学生听力方法，中考时学\\
生才能从容应对。};
\foreach \c in {o1,o2,o3} {\LC[15]{p6}{\c}}
\foreach \c in {o1a,o1b,o1c} {\LC[18]{o1}{\c}}
\LS{o2}{o2t}
\LS{o3}{o3t}

% ================= watermarks =================
\foreach \yy in {519,1519,2519,3519,4519,5519,6519} {
  \node[wm] at (1925,\yy) {树图 {\wmfont shutu.cn}};
  \node[wm] at (660,\yy) {树图 {\wmfont shutu.cn}};
}
\end{tikzpicture}
\end{document}
